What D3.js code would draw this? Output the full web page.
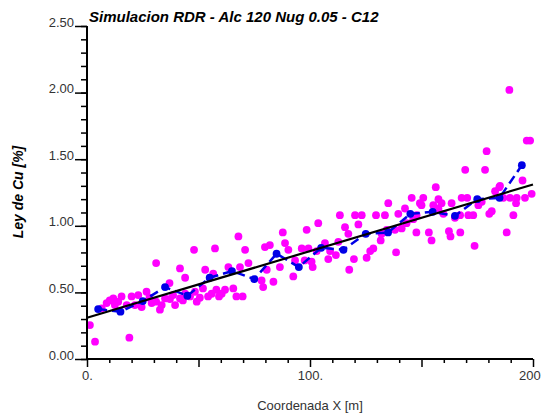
<!DOCTYPE html>
<html>
<head>
<meta charset="utf-8">
<script src="https://cdn.jsdelivr.net/npm/d3@7"></script>
<style>
  body { margin: 0; background: #fff; }
  text { font-family: "Liberation Sans", Arial, Helvetica, sans-serif; }
</style>
</head>
<body>
<script>
// samples (magenta)
var sampleX = [1.3, 3.6, 6.6, 8.8, 10.2, 11.8, 12.5, 14, 15.5, 17.8, 19, 20, 21.5, 23, 24.5, 26.7, 28, 29, 31, 31, 32.7, 33.5, 35,
  37, 37.2, 38.6, 39.5, 41.7, 41.7, 43, 44, 44, 46.2, 48, 48.4, 49.2, 50.6, 52, 53, 54.3, 55.9, 56.6, 57.4, 58, 59.2, 60.4, 61.9, 63.4,
  65.6, 67, 67.9, 68.6, 69.8, 70.9, 72.4, 78.3, 79, 79.8, 80.6, 82, 83.6, 86.5, 87.8, 88.8, 90.3, 92.5, 93.3, 96.3,
  97.6, 98.5, 99.3, 100.7, 101.2, 103, 103.7, 106.7, 108.2, 109, 111.6, 112.7, 113.4, 115.7, 117.2, 117.6, 119.7, 120.2, 121.7, 123.2,
  125.4, 127, 128.4, 129.6, 131.7, 132.1, 133.6, 134.4, 135.1, 138.1, 138.6, 139.6, 141.1, 142.6, 143.3, 145.6, 146.3, 147.7, 147.8, 149.3,
  150, 150.8, 153.3, 154.5, 155.3, 156.4, 157.6, 157.6, 159, 159.8, 162.3, 163, 163.5, 165, 167.3, 167.4, 168, 169.6, 170.5, 171,
  173.2, 173.8, 175.5, 177, 178.5, 179.2, 180.4, 181.5, 183, 184.9, 185.2, 186.7, 188.2, 189.4, 189.7, 191.2, 192.4, 192.7, 195.3, 196.4,
  197.2, 198.7, 199.4];
var sampleCu = [0.255, 0.13, 0.38, 0.42, 0.44, 0.455, 0.405, 0.43, 0.47, 0.405, 0.16, 0.47, 0.405, 0.48, 0.39, 0.505, 0.46, 0.42, 0.72, 0.43, 0.37, 0.405, 0.455,
  0.57, 0.45, 0.48, 0.405, 0.68, 0.455, 0.44, 0.61, 0.49, 0.47, 0.82, 0.505, 0.43, 0.46, 0.53, 0.67, 0.47, 0.49, 0.64, 0.83, 0.52, 0.47, 0.49, 0.52, 0.69,
  0.53, 0.47, 0.92, 0.69, 0.47, 0.82, 0.72, 0.59, 0.54, 0.84, 0.67, 0.855, 0.58, 0.69, 0.95, 0.87, 0.82, 0.62, 0.74, 0.83,
  0.74, 0.97, 0.83, 0.73, 0.69, 0.81, 1.02, 0.87, 0.75, 0.81, 0.78, 0.88, 1.08, 0.99, 0.94, 0.67, 0.75, 1.08, 1.01, 1.08,
  0.76, 0.81, 0.83, 1.08, 0.89, 0.94, 1.08, 0.97, 1.17, 0.97, 0.80, 1.09, 0.98, 1.13, 1.02, 1.21, 1.05, 0.95, 1.08, 1.17,
  1.155, 1.21, 0.95, 0.89, 1.155, 1.29, 1.2, 1.13, 1.17, 1.09, 0.96, 0.92, 1.17, 1.06, 1.08, 0.95, 1.21, 1.42, 1.21, 1.08,
  1.08, 0.85, 1.155, 1.18, 1.42, 1.56, 1.09, 1.11, 1.26, 1.29, 1.3, 1.21, 0.95, 2.02, 1.21, 1.08, 1.17, 1.21, 1.34, 1.21,
  1.64, 1.64, 1.24];

// blue series, every 10 m
var blockX = [5, 15, 25, 35, 45, 55, 65, 75, 85, 95, 105, 115, 125, 135, 145, 155, 165, 175, 185, 195];
var blockCu = [0.375, 0.355, 0.435, 0.54, 0.475, 0.61, 0.66, 0.60, 0.79, 0.69, 0.835, 0.82, 0.94, 0.95, 1.09, 1.105, 1.075, 1.2, 1.21, 1.455];

// trend line
var trendX = [0, 200];
var trendCu = [0.31, 1.31];

var yTicks = [0, 0.5, 1.0, 1.5, 2.0, 2.5];
var xLabelTicks = [0, 100, 200];

var W = 542, H = 415;
var svg = d3.select("body").append("svg")
    .attr("width", W)
    .attr("height", H);

var x = d3.scaleLinear().domain([0, 200]).range([87, 533]);
var y = d3.scaleLinear().domain([0, 2.5]).range([359, 26]);

var samples = sampleX.map(function(d, i) { return {x: d, v: sampleCu[i]}; });
var blocks = blockX.map(function(d, i) { return {x: d, v: blockCu[i]}; });
var trend = trendX.map(function(d, i) { return {x: d, v: trendCu[i]}; });

svg.selectAll(".sample")
    .data(samples)
    .enter().append("circle")
    .attr("class", "sample")
    .attr("cx", function(d) { return x(d.x); })
    .attr("cy", function(d) { return y(d.v); })
    .attr("r", 3.9)
    .style("fill", "#f0f");

var line = d3.line()
    .x(function(d) { return x(d.x); })
    .y(function(d) { return y(d.v); });

svg.append("path")
    .datum(blocks)
    .attr("d", line)
    .style("fill", "none")
    .style("stroke", "#0000e6")
    .style("stroke-width", 2.5)
    .style("stroke-dasharray", "9,5");

svg.selectAll(".block")
    .data(blocks)
    .enter().append("circle")
    .attr("class", "block")
    .attr("cx", function(d) { return x(d.x); })
    .attr("cy", function(d) { return y(d.v); })
    .attr("r", 3.9)
    .style("fill", "#0000e6");

svg.append("path")
    .datum(trend)
    .attr("d", line)
    .style("fill", "none")
    .style("stroke", "#000")
    .style("stroke-width", 2.2);

// x axis: minor ticks every 10, longer every 50
var xMinor = svg.append("g")
    .attr("transform", "translate(0,359)")
    .call(d3.axisBottom(x).tickValues(d3.range(0, 201, 10)).tickSize(4).tickFormat(""));
xMinor.selectAll(".tick line")
    .attr("y2", function(d) { return d % 50 == 0 ? 8 : 4; })
    .style("stroke-width", 1.5);
xMinor.select(".domain").remove();

var xAxis = svg.append("g")
    .attr("transform", "translate(0,359)")
    .call(d3.axisBottom(x).tickValues(xLabelTicks).tickSize(0).tickPadding(12)
        .tickFormat(function(d) { return d == 200 ? "200" : d + "."; }));
xAxis.select(".domain").remove();
xAxis.selectAll("text")
    .style("font-family", "'Liberation Sans', Arial, sans-serif")
    .style("font-size", "13px")
    .style("fill", "#333");
// last label sits against the right edge
xAxis.selectAll(".tick text")
    .filter(function(d) { return d == 200; })
    .attr("text-anchor", "start")
    .attr("x", -14.5);

// y axis: minor every 0.1, labelled every 0.5
var yMinor = svg.append("g")
    .attr("transform", "translate(87,0)")
    .call(d3.axisLeft(y).tickValues(d3.range(0, 26).map(function(i) { return i / 10; })).tickSize(6).tickFormat(""));
yMinor.selectAll(".tick line").style("stroke-width", 1.5);
yMinor.select(".domain").remove();

var yAxis = svg.append("g")
    .attr("transform", "translate(87,0)")
    .call(d3.axisLeft(y).tickValues(yTicks).tickSize(12).tickPadding(1).tickFormat(d3.format(".2f")));
yAxis.select(".domain").remove();
yAxis.selectAll(".tick line").style("stroke-width", 1.5);
yAxis.selectAll("text")
    .attr("dy", "0")
    .style("font-family", "'Liberation Sans', Arial, sans-serif")
    .style("font-size", "13px")
    .style("fill", "#333");

// axis lines
svg.append("line")
    .attr("x1", 87).attr("x2", 87)
    .attr("y1", y(2.5)).attr("y2", y(0) + 1)
    .style("stroke", "#000").style("stroke-width", 2);
svg.append("line")
    .attr("x1", 86).attr("x2", x(200))
    .attr("y1", 359).attr("y2", 359)
    .style("stroke", "#000").style("stroke-width", 2);

svg.append("text")
    .attr("x", 89)
    .attr("y", 22)
    .style("font-size", "15px")
    .style("font-weight", "bold")
    .style("font-style", "italic")
    .text("Simulacion RDR - Alc 120 Nug 0.05 - C12");

svg.append("text")
    .attr("x", 310)
    .attr("y", 410)
    .attr("text-anchor", "middle")
    .style("font-size", "13px")
    .style("fill", "#333")
    .text("Coordenada X [m]");

svg.append("text")
    .attr("transform", "translate(23,192) rotate(-90)")
    .attr("text-anchor", "middle")
    .style("font-size", "14px")
    .style("font-weight", "bold")
    .style("font-style", "italic")
    .text("Ley de Cu [%]");
</script>
</body>
</html>
